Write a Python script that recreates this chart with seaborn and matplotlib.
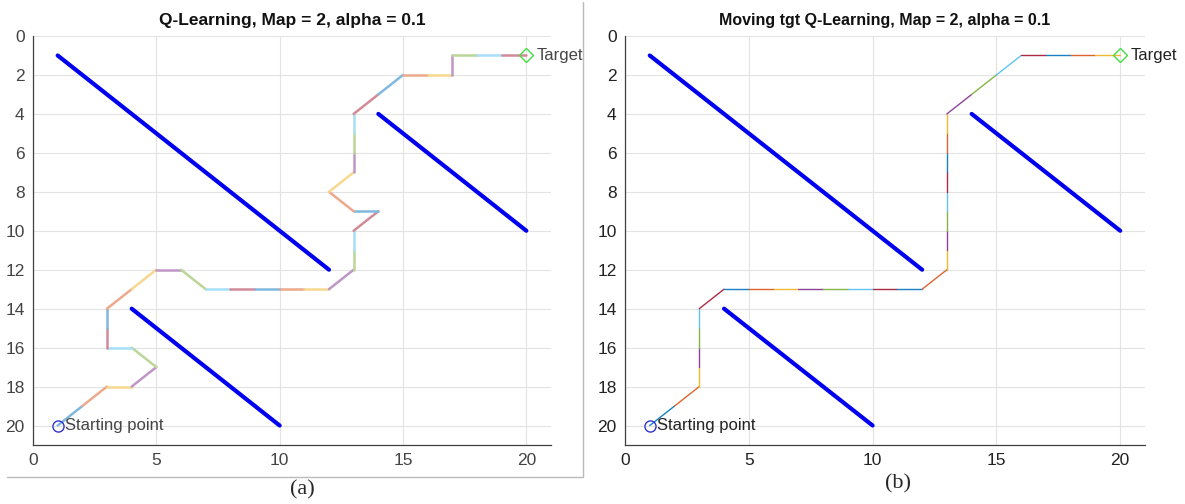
import numpy as np
import pandas as pd
import seaborn as sns
import matplotlib.pyplot as plt
from matplotlib.colors import to_rgb

# ------------------------------------------
# Data
# ------------------------------------------
# obstacle walls: (x0, y0, x1, y1)
walls = [(1, 1, 12, 12), (14, 4, 20, 10), (4, 14, 10, 20)]

# path found by plain Q-learning (panel a)
path_a_x = [1, 2, 3, 4, 5, 4, 3, 3, 3, 4, 5, 6, 7, 8, 9, 10, 11, 12, 13, 13, 13,
            14, 13, 12, 13, 13, 13, 13, 14, 15, 16, 17, 17, 18, 19, 20]
path_a_y = [20, 19, 18, 18, 17, 16, 16, 15, 14, 13, 12, 12, 13, 13, 13, 13, 13, 13, 12, 11, 10,
            9, 9, 8, 7, 6, 5, 4, 3, 2, 2, 2, 1, 1, 1, 1]

# path found by moving-target Q-learning (panel b)
path_b_x = [1, 2, 3, 3, 3, 3, 3, 4, 5, 6, 7, 8, 9, 10, 11, 12, 13, 13, 13, 13, 13,
            13, 13, 13, 13, 14, 15, 16, 17, 18, 19, 20]
path_b_y = [20, 19, 18, 17, 16, 15, 14, 13, 13, 13, 13, 13, 13, 13, 13, 13, 12, 11, 10, 9, 8,
            7, 6, 5, 4, 3, 2, 1, 1, 1, 1, 1]

start = (1, 20)
target = (20, 1)
titles = ["Q-Learning, Map = 2, alpha = 0.1",
          "Moving tgt Q-Learning, Map = 2, alpha = 0.1"]
captions = ["(a)", "(b)"]

# MATLAB default colour order used for the path steps
matlab_colors = ["#0072BD", "#D95319", "#EDB120", "#7E2F8E", "#77AC30", "#4DBEEE", "#A2142F"]

sns.set_theme(style="white")
plt.rcParams['font.family'] = ['Liberation Sans', 'DejaVu Sans']

fig = plt.figure(figsize=(11.85, 5.04), dpi=100)
ax_a = fig.add_axes([33 / 1185, 1 - 445 / 504, 518 / 1185, 409 / 504])
ax_b = fig.add_axes([625 / 1185, 1 - 445 / 504, 520 / 1185, 409 / 504])


def segments(xs, ys):
    rows = []
    for i in range(len(xs) - 1):
        rows.append({"x": xs[i], "y": ys[i], "seg": i})
        rows.append({"x": xs[i + 1], "y": ys[i + 1], "seg": i})
    return pd.DataFrame(rows)


def fade(c, f):
    # blend a colour towards white (the left image is washed out)
    r = np.array(to_rgb(c))
    return tuple(r * f + (1 - f))


def draw_panel(ax, xs, ys, title, strength, path_lw, label_color, title_size):
    # walls
    for x0, y0, x1, y1 in walls:
        wdf = pd.DataFrame({"x": [x0, x1], "y": [y0, y1]})
        sns.lineplot(data=wdf, x="x", y="y", ax=ax, color="#0000EE", linewidth=3,
                     sort=False, estimator=None)
    # path, one colour per step
    seg = segments(xs, ys)
    n = seg["seg"].nunique()
    pal = [fade(matlab_colors[i % len(matlab_colors)], strength) for i in range(n)]
    sns.lineplot(data=seg, x="x", y="y", hue="seg", palette=pal, ax=ax, linewidth=path_lw,
                 sort=False, estimator=None, legend=False)
    ax.plot(start[0], start[1], marker="o", mfc="none", mec="#3333CC", ms=8, mew=1)
    ax.plot(target[0], target[1], marker="D", mfc="none", mec="#44DD44", ms=7, mew=1)
    ax.text(start[0] + 0.3, start[1], "Starting point", fontsize=12, va="center",
            color=label_color)
    ax.text(target[0] + 0.4, target[1], "Target", fontsize=12, va="center",
            color=label_color)

    ax.set_xlim(0, 21)
    ax.set_ylim(21, 0)
    ax.set_xticks([0, 5, 10, 15, 20])
    ax.set_yticks(np.arange(0, 21, 2))
    ax.grid(True, color="#e3e3e3", linewidth=0.8)
    ax.set_xlabel("")
    ax.set_ylabel("")
    ax.tick_params(labelsize=12.5, colors=label_color, length=0, pad=6)
    for s in ["top", "right"]:
        ax.spines[s].set_visible(False)
    for s in ["left", "bottom"]:
        ax.spines[s].set_color("#404040")
        ax.spines[s].set_linewidth(0.9)
    ax.set_title(title, fontsize=title_size, fontweight="bold", color="#111111", pad=8)


draw_panel(ax_a, path_a_x, path_a_y, titles[0], 0.5, 1.8, "#444444", 12.5)
draw_panel(ax_b, path_b_x, path_b_y, titles[1], 0.9, 1.0, "#222222", 11.5)

fig.text(302 / 1185, 1 - 490 / 504, captions[0], fontsize=16, family="Liberation Serif",
         ha="center", va="center")
fig.text(898 / 1185, 1 - 484 / 504, captions[1], fontsize=16, family="Liberation Serif",
         ha="center", va="center")

# light frame around left panel, like the source image
fig.add_artist(plt.Line2D([7 / 1185, 583 / 1185], [1 - 477 / 504, 1 - 477 / 504],
                          color="#bbbbbb", linewidth=1))
fig.add_artist(plt.Line2D([583 / 1185, 583 / 1185], [1 - 477 / 504, 1 - 2 / 504],
                          color="#bbbbbb", linewidth=1))

fig.savefig("out.png", dpi=100)
